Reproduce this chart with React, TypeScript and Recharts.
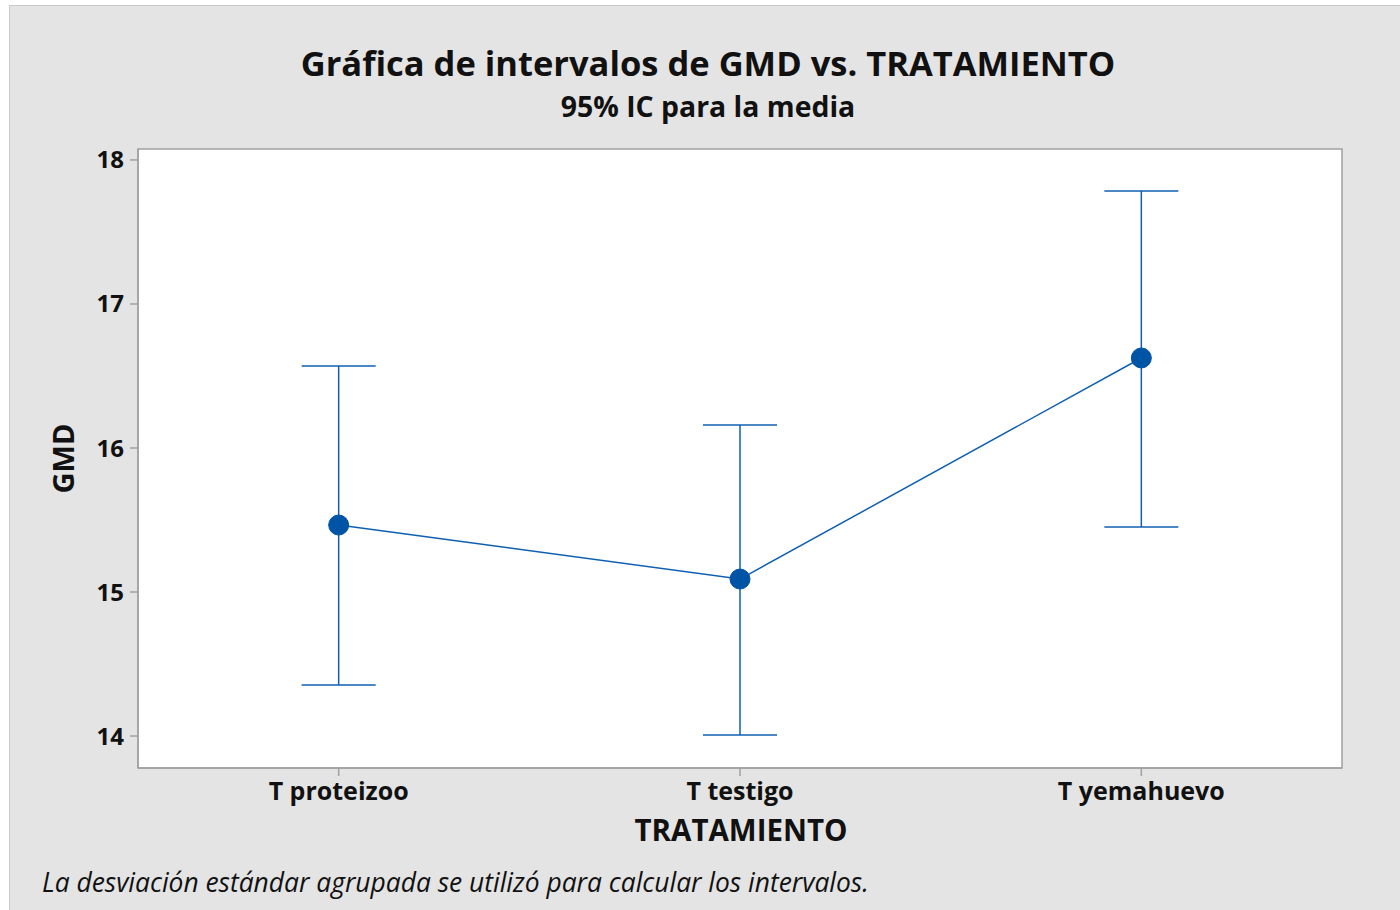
import React from 'react';
import { ComposedChart, Line, ErrorBar, XAxis, YAxis, ReferenceArea, CartesianGrid } from 'recharts';

const categories = ['T proteizoo', 'T testigo', 'T yemahuevo'];
const means = [15.465, 15.09, 16.625];
const lowerCI = [14.354, 14.007, 15.451];
const upperCI = [16.57, 16.16, 17.785];
const yTicks = [14, 15, 16, 17, 18];
const yDomain = [13.778, 18.076];

const data = categories.map((c, i) => ({
  name: c,
  mean: means[i],
  ci: [means[i] - lowerCI[i], upperCI[i] - means[i]],
}));

const FONT = '"Open Sans", "Noto Sans", sans-serif';
const BLUE = '#0f5fb0';
const DOT = '#0054a6';
const AXIS = '#a0a0a0';

const abs = (s: React.CSSProperties): React.CSSProperties => ({ position: 'absolute', whiteSpace: 'nowrap', ...s });

export default function App() {
  return (
    <div style={{ position: 'absolute', left: 0, top: 0, width: 1400, height: 910, background: '#ffffff', fontFamily: FONT, overflow: 'hidden' }}>
      <div style={abs({ left: 9, top: 5, width: 1400, height: 920, background: '#e4e4e4', borderLeft: '1.5px solid #c9c9c9', borderTop: '1.5px solid #c9c9c9' })} />
      <div style={abs({ left: 0, top: 0 })}>
        <ComposedChart width={1400} height={910} data={data} margin={{ top: 149, right: 58, bottom: 92, left: 0 }}>
          <CartesianGrid horizontal={false} vertical={false} fill="#ffffff" />
          <XAxis
            dataKey="name"
            scale="band"
            height={50}
            interval={0}
            tickLine={{ stroke: AXIS, strokeWidth: 1.5 }}
            axisLine={{ stroke: AXIS, strokeWidth: 1.5 }}
            tickSize={8}
            tickMargin={6}
            tick={{ fill: '#111', fontSize: 25, fontWeight: 700, fontFamily: FONT }}
          />
          <YAxis
            width={138}
            domain={yDomain}
            ticks={yTicks}
            allowDataOverflow
            tickLine={{ stroke: AXIS, strokeWidth: 1.5 }}
            axisLine={{ stroke: AXIS, strokeWidth: 1.5 }}
            tickSize={8}
            tickMargin={6}
            tick={{ fill: '#111', fontSize: 24, fontWeight: 700, fontFamily: FONT }}
          />
          <ReferenceArea y1={yDomain[0]} y2={yDomain[1]} fill="none" fillOpacity={0} stroke={AXIS} strokeWidth={1.5} ifOverflow="visible" />
          <Line
            dataKey="mean"
            stroke={BLUE}
            strokeWidth={1.5}
            isAnimationActive={false}
            dot={{ r: 10, fill: DOT, stroke: DOT, strokeWidth: 1 }}
            activeDot={false}
          >
            <ErrorBar dataKey="ci" direction="y" width={37} stroke={BLUE} strokeWidth={1.5} isAnimationActive={false} />
          </Line>
        </ComposedChart>
      </div>
      <div style={abs({ left: 0, width: 1416, top: 46, textAlign: 'center', fontSize: 34.5, lineHeight: '34.5px', fontWeight: 700, color: '#111' })}>
        Gráfica de intervalos de GMD vs. TRATAMIENTO
      </div>
      <div style={abs({ left: 0, width: 1416, top: 92, textAlign: 'center', fontSize: 28.4, lineHeight: '28.4px', fontWeight: 700, color: '#111' })}>
        95% IC para la media
      </div>
      <div style={abs({ left: 0, width: 1482, top: 815, textAlign: 'center', fontSize: 29.5, lineHeight: '29.5px', fontWeight: 700, color: '#111' })}>
        TRATAMIENTO
      </div>
      <div style={abs({ left: 42, top: 869, fontSize: 26.4, lineHeight: '26.4px', fontStyle: 'italic', color: '#111' })}>
        La desviación estándar agrupada se utilizó para calcular los intervalos.
      </div>
      <div style={abs({ left: 12, top: 444, width: 100, textAlign: 'center', fontSize: 29, lineHeight: '29px', fontWeight: 700, color: '#111', transform: 'rotate(-90deg)' })}>
        GMD
      </div>
    </div>
  );
}
